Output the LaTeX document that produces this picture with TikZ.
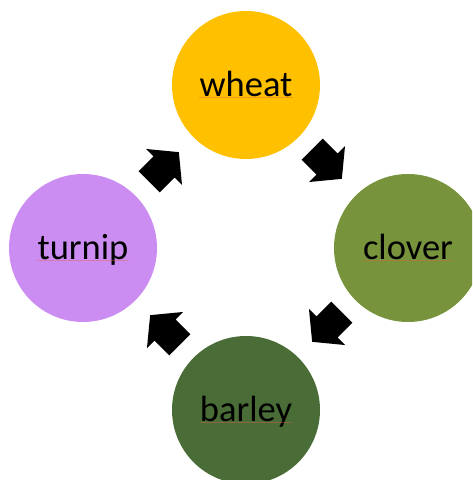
\documentclass[tikz,border=0pt]{standalone}
\usepackage{fontspec}
\setmainfont{Carlito}
\definecolor{wheatc}{HTML}{FFC000}
\definecolor{cloverc}{HTML}{77933C}
\definecolor{barleyc}{HTML}{4A6D37}
\definecolor{turnipc}{HTML}{CC8DF2}
\definecolor{squigc}{HTML}{E8604A}
\tikzset{
  crop/.style={circle, minimum size=148pt, inner sep=0pt, draw=none},
  lbl/.style={inner sep=0pt, text height=23pt, text depth=0pt, font=\fontsize{36.5}{40}\selectfont, text=black},
  squig/.style={draw=squigc, opacity=0.4, line width=0.6pt},
  blockarrow/.style={fill=black, draw=none},
}
\begin{document}
\begin{tikzpicture}[x=1pt,y=1pt]
\useasboundingbox (0,0) rectangle (472,480);
\clip (0,0) rectangle (472,480);
% circles
\node[crop, fill=wheatc]  (wheat)  at (246,395) {};
\node[crop, fill=cloverc] (clover) at (408,232) {};
\node[crop, fill=barleyc] (barley) at (246,70) {};
\node[crop, fill=turnipc] (turnip) at (83,232) {};
% labels
\node[lbl] (wheatl)  at (wheat)  {wheat};
\node[lbl] (cloverl) at (clover) {clover};
\node[lbl] (barleyl) at (barley) {barley};
\node[lbl] (turnipl) at (turnip) {turnip};
% spell-check underlines
\foreach \n in {wheatl,cloverl,barleyl,turnipl}{
  \draw[squig] ([yshift=-1pt]\n.base west) -- ([yshift=-1pt]\n.base east);
}
% block arrows
\foreach \cx/\cy/\ang in {164/313/45, 327/316/-45, 327/153/-135, 165/150/135}{
  \begin{scope}[shift={(\cx,\cy)}, rotate=\ang]
    \path[blockarrow] (-21,-15) -- (0,-15) -- (0,-25.5) -- (21,0) -- (0,25.5) -- (0,15) -- (-21,15) -- cycle;
  \end{scope}
}
\end{tikzpicture}
\end{document}
